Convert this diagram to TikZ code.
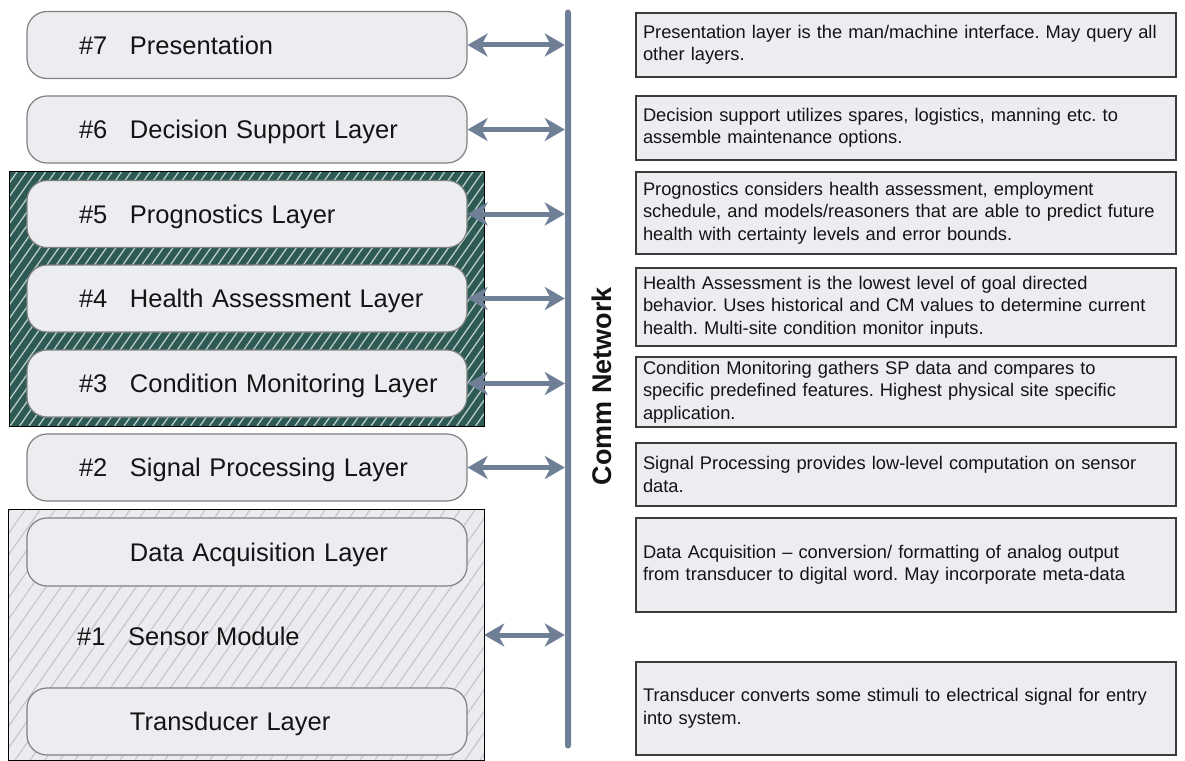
\documentclass[tikz,border=0pt]{standalone}
\usepackage{fontspec}
\setmainfont{Liberation Sans}
\usetikzlibrary{arrows.meta}
\frenchspacing

\definecolor{boxfill}{RGB}{236,237,241}
\definecolor{boxline}{RGB}{128,128,128}
\definecolor{noteline}{RGB}{60,60,60}
\definecolor{busblue}{RGB}{111,127,150}
\definecolor{tealdark}{RGB}{45,90,84}
\definecolor{tealstripe}{RGB}{185,205,200}
\definecolor{greyfill}{RGB}{235,236,239}
\definecolor{greystripe}{RGB}{200,202,207}
\definecolor{ink}{RGB}{20,20,20}

% layer label: number column, then the layer name
\newcommand\laytext[2]{\hspace*{52pt}\makebox[51pt][l]{#1}#2}

\tikzset{
  layer/.style={draw=boxline, line width=1.2pt, fill=boxfill, rounded corners=20pt,
    minimum width=440pt, minimum height=67pt, inner xsep=0pt, inner ysep=0pt,
    text width=440pt, align=left, text=ink,
    font=\fontsize{25.5}{30}\selectfont, text height=18.3pt, text depth=0pt},
  note/.style={draw=noteline, line width=1.1pt, fill=boxfill,
    minimum width=540pt, text width=526pt, inner xsep=7pt, inner ysep=0pt,
    align=left, text=ink, font=\fontsize{18.3}{22.5}\selectfont},
  biarrow/.style={draw=busblue, line width=5pt, {Stealth[length=20pt,width=23pt,inset=6pt]}-{Stealth[length=20pt,width=23pt,inset=6pt]}},
  darkstripe/.style={draw=tealstripe, line width=1.3pt},
  greystripeline/.style={draw=greystripe, line width=1.3pt},
}

\begin{document}
\begin{tikzpicture}[x=1pt,y=-1pt]
\useasboundingbox (0,0) rectangle (1185,760);

% ---- hatched group: layers 3 to 5
\node[fill=tealdark, minimum width=474pt, minimum height=254pt, inner sep=0pt] (grp) at (247,299) {};
\begin{scope}
  \clip (10,172) rectangle (484,426);
  \foreach \s in {-180,-170.5,...,500}
    \draw[darkstripe] (\s,426) -- (\s+178,172);
\end{scope}
\draw[black, line width=1pt] (grp.south west) rectangle (grp.north east);

% ---- hatched group: sensor module
\node[fill=greyfill, minimum width=475pt, minimum height=250pt, inner sep=0pt] (sensor) at (246.5,635) {};
\begin{scope}
  \clip (9,510) rectangle (484,760);
  \foreach \s in {-180,-165,...,500}
    \draw[greystripeline] (\s,760) -- (\s+175,510);
\end{scope}
\draw[black, line width=1pt] (sensor.south west) rectangle (sensor.north east);

% ---- communication bus
\node[fill=busblue, minimum width=6pt, minimum height=739pt, inner sep=0pt, rounded corners=3pt] (bus) at (568,379) {};
\node[rotate=90, anchor=base, font=\fontsize{27}{30}\selectfont\bfseries, text=ink] (comm) at (611,386) {Comm Network};

% ---- layers
\node[layer] (L7) at (247,45)  {\laytext{\#7}{Presentation}};
\node[layer] (L6) at (247,129.5) {\laytext{\#6}{Decision Support Layer}};
\node[layer] (L5) at (247,214) {\laytext{\#5}{Prognostics Layer}};
\node[layer] (L4) at (247,298.5) {\laytext{\#4}{Health Assessment Layer}};
\node[layer] (L3) at (247,383.5) {\laytext{\#3}{Condition Monitoring Layer}};
\node[layer] (L2) at (247,467.5) {\laytext{\#2}{Signal Processing Layer}};
\node[layer, minimum height=68pt] (DA) at (247,552) {\hspace*{103pt}Data Acquisition Layer};
\node[layer] (TR) at (247,721.5) {\hspace*{103pt}Transducer Layer};
\node[anchor=base west, inner sep=0pt, text=ink, font=\fontsize{25.5}{30}\selectfont] (SM) at (77,645) {\makebox[51pt][l]{\#1}Sensor Module};

% ---- links to the bus
\foreach \n in {L7,L6,L5,L4,L3,L2}
  \draw[biarrow] (\n.east) -- (\n.east -| bus.west);
\draw[biarrow] (sensor.east) -- (sensor.east -| bus.west);

% ---- descriptions
\node[note, minimum height=64pt] (N7) at (906,45) {Presentation layer is the man/machine interface. May query all\\ other layers.};
\node[note, minimum height=64pt] (N6) at (906,128) {Decision support utilizes spares, logistics, manning etc. to\\ assemble maintenance options.};
\node[note, minimum height=82pt] (N5) at (906,213) {Prognostics considers health assessment, employment\\ schedule, and models/reasoners that are able to predict future\\ health with certainty levels and error bounds.};
\node[note, minimum height=78pt] (N4) at (906,307) {Health Assessment is the lowest level of goal directed\\ behavior. Uses historical and CM values to determine current\\ health. Multi-site condition monitor inputs.};
\node[note, minimum height=70pt] (N3) at (906,392) {Condition Monitoring gathers SP data and compares to\\ specific predefined features. Highest physical site specific\\ application.};
\node[note, minimum height=63pt] (N2) at (906,474.5) {Signal Processing provides low-level computation on sensor\\ data.};
\node[note, minimum height=94pt] (NDA) at (906,565) {Data Acquisition – conversion/ formatting of analog output\\ from transducer to digital word. May incorporate meta-data};
\node[note, minimum height=93pt] (NTR) at (906,708.5) {Transducer converts some stimuli to electrical signal for entry\\ into system.};
\end{tikzpicture}
\end{document}
